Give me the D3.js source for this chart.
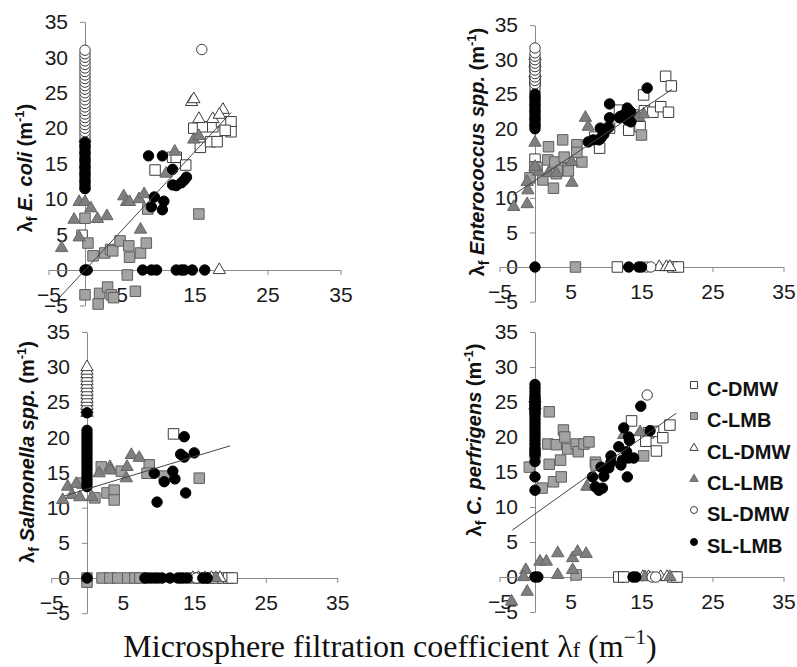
<!DOCTYPE html>
<html>
<head>
<meta charset="utf-8">
<script src="https://cdn.jsdelivr.net/npm/d3@7"></script>
<style>
	body{margin:0;background:#fff;}
	svg{display:block;}
	.tick text{font-family:'Liberation Sans',Arial,sans-serif;font-size:21px;fill:#1a1a1a;}
	.axis path,.axis line{stroke:#8a8a8a;stroke-width:1;}
	.ytitle{font-family:'Liberation Sans',Arial,sans-serif;font-size:20px;font-weight:bold;fill:#111;}
	.legend text{font-family:'Liberation Sans',Arial,sans-serif;font-size:20px;font-weight:bold;fill:#111;}
	.xtitle{font-family:'Liberation Serif','Times New Roman',serif;font-size:32px;fill:#111;}
</style>
</head>
<body>
<div id="chart"></div>
<script>
//series names, drawn in this order
const seriesNames = ['C-DMW','C-LMB','CL-DMW','CL-LMB','SL-DMW','SL-LMB'];
const xTicks = [-5,5,15,25,35];
const yTicks = [-5,0,5,10,15,20,25,30,35];

//E. coli
const ecoliCDMW = [[-0.4,4.9],[9.6,14.1],[12,15.9],[12.5,15.9],[13.8,14.8],[15.8,17.3],[14.9,20],[16.1,20.2],[17.2,18.1],[18.1,18.1],[17.5,20.2],[18.7,20.9],[20,20.9],[20,19.5],[19.2,19.7]];
const ecoliCLMB = [[0,7.3],[0.4,3.8],[1.1,2],[2.7,2.4],[3.5,2.9],[3.8,2.7],[4.8,4.1],[6,3.4],[6.1,1.8],[5.8,-0.7],[7.6,2.4],[8.4,3.8],[8.6,8.6],[15.6,7.9],[0,-3.5],[2,-3.3],[1.8,-4.8],[3.1,-2.4],[3.6,-3.5],[3.9,-3.9],[6.9,-3]];
const ecoliCLDMW = [[14.6,23.7],[14.9,24.1],[15.6,21.3],[17.5,21.3],[18.9,22.6],[18.4,21.9],[18.4,0]];
const ecoliCLLMB = [[-3.2,3.1],[-1.5,7.1],[-0.8,4.6],[-0.8,9.6],[0,9.6],[0.8,8.7],[1.7,7.2],[3,7.6],[5.3,10.4],[5.7,9.6],[6.1,9.6],[7.4,10],[8.1,10.7],[7.6,5.7],[11.1,13.6],[12.3,16.7],[14.9,18.4],[15.6,18.9],[0,18.6]];
const ecoliSLDMW = [[16,31.1],[0,11.5],[0,12.5],[0,13.5],[0,14.5],[0,15.5],[0,16.5],[0,17.5],[0,18.5],[0,19],[0,19.5],[0,20],[0,20.5],[0,21],[0,21.5],[0,22],[0,22.5],[0,23],[0,23.5],[0,24],[0,24.5],[0,25],[0,25.5],[0,26],[0,26.5],[0,27],[0,27.5],[0,28],[0,28.5],[0,29],[0,29.5],[0,30],[0,30.5],[0,31]];
const ecoliSLLMB = [[0,0],[0.3,0],[8.7,16.1],[10.6,16.1],[12,14.2],[9.5,10.3],[10.8,9.7],[9.1,8.9],[10.6,8.5],[12,12],[12.5,11.9],[13.2,12.3],[13.6,12.7],[13.9,13.1],[7.9,0],[9.1,0],[9.8,0],[12.5,0],[13.2,0],[13.6,0],[14.7,0],[16.4,0],
	[0,11.5],[0,12],[0,12.5],[0,13],[0,13.5],[0,14],[0,14.5],[0,15],[0,15.5],[0,16],[0,16.5],[0,17],[0,17.5],[0,18]];
const ecoliFit = [[-3.6,-4],[20,22.2]];

//Enterococcus spp.
const enteroCDMW = [[0,15.6],[0,14.3],[9.1,17.2],[8.4,18.8],[10.5,20.1],[11.9,22.7],[13.9,22],[13.2,19.8],[14.8,20.3],[15.3,24.9],[15.4,22.6],[16.6,22.4],[17.7,23.2],[18.8,22.4],[18.4,27.6],[19.2,26.2],[11.6,0],[19.4,0],[20.2,0],[0,27],[0,29]];
const enteroCLMB = [[-0.7,12.9],[0,14.5],[0.3,14.4],[1.1,12.6],[1.8,15.5],[1.9,17.4],[2.6,11.4],[2.8,15.2],[3,13.5],[3.7,14],[3.9,18.4],[4.1,15.9],[4.6,14.2],[4.7,13.9],[5.9,17.7],[6.6,15.2],[5.9,16.6],[15,19.1],[5.7,0]];
const enteroCLDMW = [[17.5,0],[18.5,0],[19,0],[0,28],[0,29.5],[0,30.5]];
const enteroCLLMB = [[-3,8.7],[-1.1,9.1],[-1,11.1],[-1.1,12.3],[0,18],[0.5,13.8],[1.9,13.6],[3,13.6],[5.2,12.2],[5.2,15.2],[7.1,21.6],[7.5,20.3],[14.6,21.7],[15.3,22.1],[0,14.5]];
const enteroSLDMW = [[15.7,0],[16.3,0],[0,20.5],[0,21.5],[0,22.5],[0,23.5],[0,24.5],[0,25.5],[0,26],[0,26.5],[0,27],[0,27.5],[0,28],[0,28.5],[0,29],[0,29.5],[0,30],[0,30.5],[0,31],[0,31.7]];
const enteroSLLMB = [[7.5,18.1],[8.2,18.4],[9,18.4],[9.3,18.7],[9.2,20.1],[9.7,19.2],[10.4,20.2],[10.5,21.6],[10.5,23.6],[11.9,21.6],[12,21.8],[12.6,22.1],[13,23],[13.3,22.6],[13.5,22.4],[13,21.3],[13.5,21],[15.8,25.9],[0,0],[13.2,0],[14.6,0],[15,0],
	[0,20],[0,20.5],[0,21],[0,21.5],[0,22],[0,22.5],[0,23],[0,23.5],[0,24],[0,24.5],[0,25]];
const enteroFit = [[-3.1,10.4],[19.3,25.7]];

//Salmonella spp.
const salmonCDMW = [[12.1,20.5],[17,0],[18,0],[19,0],[19.8,0],[20.3,0]];
const salmonCLMB = [[-0.7,13.5],[1.1,11.4],[2,15.8],[2.8,12.1],[3.8,12.5],[3.8,11.1],[4.8,15.2],[8.7,16.1],[8.4,14.9],[10.8,14.5],[15.7,14.2],[0,0],[0,-0.6],[2.1,0],[3.2,0],[4.3,0],[5.7,0],[6.7,0],[7.4,0],[15,0],[16,0]];
const salmonCLDMW = [[14.8,0],[15.6,0],[17.4,0],[18.6,0],[0,23.5],[0,24],[0,24.5],[0,25],[0,25.5],[0,26],[0,26.5],[0,27],[0,27.5],[0,28],[0,28.5],[0,29],[0,29.5],[0,30]];
const salmonCLLMB = [[-3.4,11.1],[-2.7,13],[-2.1,11.8],[-1,11.5],[-1.5,13.4],[0.7,11.5],[1.7,14.9],[3.2,15.8],[3.3,15.3],[5.5,14.2],[5.6,15.8],[6.2,17.5],[7.3,17.1],[16.5,0],[18,0]];
const salmonSLDMW = [[15.3,0],[16.8,0]];
const salmonSLLMB = [[9.4,14.9],[9.8,10.8],[10.8,13.7],[12,15.2],[12.3,14.1],[13.1,17.6],[13.6,17.2],[13.6,20.1],[13.8,12.1],[15,17.8],[0,0],[8.1,0],[8.5,0],[9,0],[9.5,0],[10,0],[10.5,0],[11.6,0],[12.7,0],[13.1,0],[13.5,0],[14,0],[16.2,0],[16.8,0],
	[0,13],[0,13.5],[0,14],[0,14.5],[0,15],[0,15.5],[0,16],[0,16.5],[0,17],[0,17.5],[0,18],[0,18.5],[0,19],[0,19.5],[0,20],[0,20.5],[0,21],[0,23.5]];
const salmonFit = [[-3.1,11.7],[20,18.8]];

//C. perfrigens
const perfCDMW = [[13.6,22.3],[16,20.6],[16.7,20.8],[17.1,18],[18,19.9],[19,21.7],[15.6,19.4],[11.8,0],[12.5,0],[19.4,0],[20,0],[0,24],[0,25]];
const perfCLMB = [[-0.8,15.7],[0,17.7],[2,23.6],[1.8,19],[3,18.9],[2,16.1],[3.6,16.7],[1,12.7],[2.6,13.6],[3.7,14.3],[4,21],[4.2,20],[4.6,18.3],[5.8,19],[6.1,17.9],[6.9,19],[7.6,19.3],[8.5,16.4],[8.6,16],[15.3,17.3],[5.8,0.3]];
const perfCLDMW = [[15.2,0],[16,0],[17.7,0],[18.6,0],[0,24.5],[0,25.5]];
const perfCLLMB = [[7.3,12.9],[14.8,20.7],[12.5,20.3],[-1.3,1],[-1.6,0],[0.7,2.2],[1.6,2.2],[3.2,3.4],[3.2,0.3],[5.3,2.7],[6,3.6],[7.2,3.3],[5.3,1],[-1.1,-2.1],[-3.3,-3.5],[15.5,0],[19,0]];
const perfSLDMW = [[15.8,26],[16.5,0],[17,0]];
const perfSLLMB = [[0,12.4],[0,14.3],[0,16.5],[14.9,24.4],[16.2,20.9],[12.5,21.3],[11.8,18.6],[13.2,20],[13.3,19.5],[12.9,17.9],[13.2,17],[13.9,17],[12.3,16.7],[12.1,16],[10.7,17.3],[10.7,16.4],[10.4,15.6],[9.3,15.7],[9.7,14.4],[8.1,14.3],[8.5,12.9],[9,12.4],[9.5,12.7],[13,14.3],[0,0],[0.4,0],[13.8,0],[14.2,0],
	[0,17.5],[0,18],[0,18.5],[0,19],[0,19.5],[0,20],[0,20.5],[0,21],[0,21.5],[0,22],[0,22.5],[0,23],[0,23.5],[0,24],[0,24.5],[0,25],[0,25.5],[0,26],[0,26.5],[0,27],[0,27.5]];
const perfFit = [[-3.2,6.7],[19.9,23.4]];

//marker styles, same order as seriesNames
const markerStyle = [
	{type:d3.symbolSquare, size:110, fill:'#fff', stroke:'#3c3c3c'},
	{type:d3.symbolSquare, size:110, fill:'#a3a3a3', stroke:'#5e5e5e'},
	{type:d3.symbolTriangle, size:66, fill:'#fff', stroke:'#3c3c3c'},
	{type:d3.symbolTriangle, size:66, fill:'#7f7f7f', stroke:'#666'},
	{type:d3.symbolCircle, size:85, fill:'#fff', stroke:'#3c3c3c'},
	{type:d3.symbolCircle, size:85, fill:'#000', stroke:'#000'}
];

const panels = [
	{series:[ecoliCDMW,ecoliCLMB,ecoliCLDMW,ecoliCLLMB,ecoliSLDMW,ecoliSLLMB], fit:ecoliFit,
		x0:85, kx:7.3, y0:270, ky:7.09, tx:25, ty:168, name:'E. coli'},
	{series:[enteroCDMW,enteroCLMB,enteroCLDMW,enteroCLLMB,enteroSLDMW,enteroSLLMB], fit:enteroFit,
		x0:535, kx:7.1, y0:267, ky:6.91, tx:477, ty:152, name:'Enterococcus spp.'},
	{series:[salmonCDMW,salmonCLMB,salmonCLDMW,salmonCLLMB,salmonSLDMW,salmonSLLMB], fit:salmonFit,
		x0:87, kx:7.15, y0:578, ky:7.03, tx:27, ty:452, name:'Salmonella spp.'},
	{series:[perfCDMW,perfCLMB,perfCLDMW,perfCLLMB,perfSLDMW,perfSLLMB], fit:perfFit,
		x0:535, kx:7.1, y0:577, ky:7.0, tx:474, ty:440, name:'C. perfrigens'}
];

const svg = d3.select('#chart').append('svg')
	.attr('width',797)
	.attr('height',667);

panels.forEach(p => {
	const scaleX = d3.scaleLinear().domain([-5,35]).range([p.x0 - 5*p.kx, p.x0 + 35*p.kx]);
	const scaleY = d3.scaleLinear().domain([-5,35]).range([p.y0 + 5*p.ky, p.y0 - 35*p.ky]);
	const g = svg.append('g');

	//axes cross at zero
	g.append('g')
		.attr('class','axis axis-y')
		.attr('transform',`translate(${scaleX(0)},0)`)
		.call(d3.axisLeft(scaleY).tickValues(yTicks).tickSizeInner(5).tickSizeOuter(0).tickPadding(12));
	g.append('g')
		.attr('class','axis axis-x')
		.attr('transform',`translate(0,${scaleY(0)})`)
		.call(d3.axisBottom(scaleX).tickValues(xTicks).tickSizeInner(5).tickSizeOuter(0).tickPadding(12));

	//points
	p.series.forEach((data,i) => {
		const st = markerStyle[i];
		g.append('g')
			.selectAll('path')
			.data(data)
			.enter()
			.append('path')
			.attr('d', d3.symbol().type(st.type).size(st.size))
			.attr('transform', d => `translate(${scaleX(d[0])},${scaleY(d[1])})`)
			.style('fill',st.fill)
			.style('stroke',st.stroke)
			.style('stroke-width',1);
	});

	//trend line
	g.append('path')
		.datum(p.fit)
		.attr('d', d3.line().x(d => scaleX(d[0])).y(d => scaleY(d[1])))
		.style('fill','none')
		.style('stroke','#444')
		.style('stroke-width',1);

	//y title
	const t = g.append('text')
		.attr('class','ytitle')
		.attr('text-anchor','middle')
		.attr('transform',`translate(${p.tx + 7},${p.ty}) rotate(-90)`);
	t.append('tspan').text('λ');
	t.append('tspan').attr('font-size','14px').attr('dy',5).text('f');
	t.append('tspan').attr('dy',-5).text(' ');
	t.append('tspan').attr('font-style','italic').text(p.name);
	t.append('tspan').text(' (m');
	t.append('tspan').attr('font-size','13px').attr('dy',-8).text('-1');
	t.append('tspan').attr('dy',8).text(')');
});

//legend
const legend = svg.append('g').attr('class','legend');
const legendRows = [389,420,452,483,514,546];
seriesNames.forEach((name,i) => {
	const st = markerStyle[i];
	legend.append('path')
		.attr('d', d3.symbol().type(st.type).size(st.size*0.45))
		.attr('transform',`translate(694,${legendRows[i] - 4})`)
		.style('fill',st.fill)
		.style('stroke',st.stroke);
	legend.append('text')
		.attr('x',707)
		.attr('y',legendRows[i] + 7)
		.text(name);
});

//shared x title
const xt = svg.append('text')
	.attr('class','xtitle')
	.attr('x',390)
	.attr('y',657)
	.attr('text-anchor','middle');
xt.append('tspan').text('Microsphere filtration coefficient λ');
xt.append('tspan').attr('font-size','22px').text('f');
xt.append('tspan').text(' (m');
xt.append('tspan').attr('font-size','21px').attr('dy',-13).text('−1');
xt.append('tspan').attr('dy',13).text(')');
</script>
</body>
</html>
